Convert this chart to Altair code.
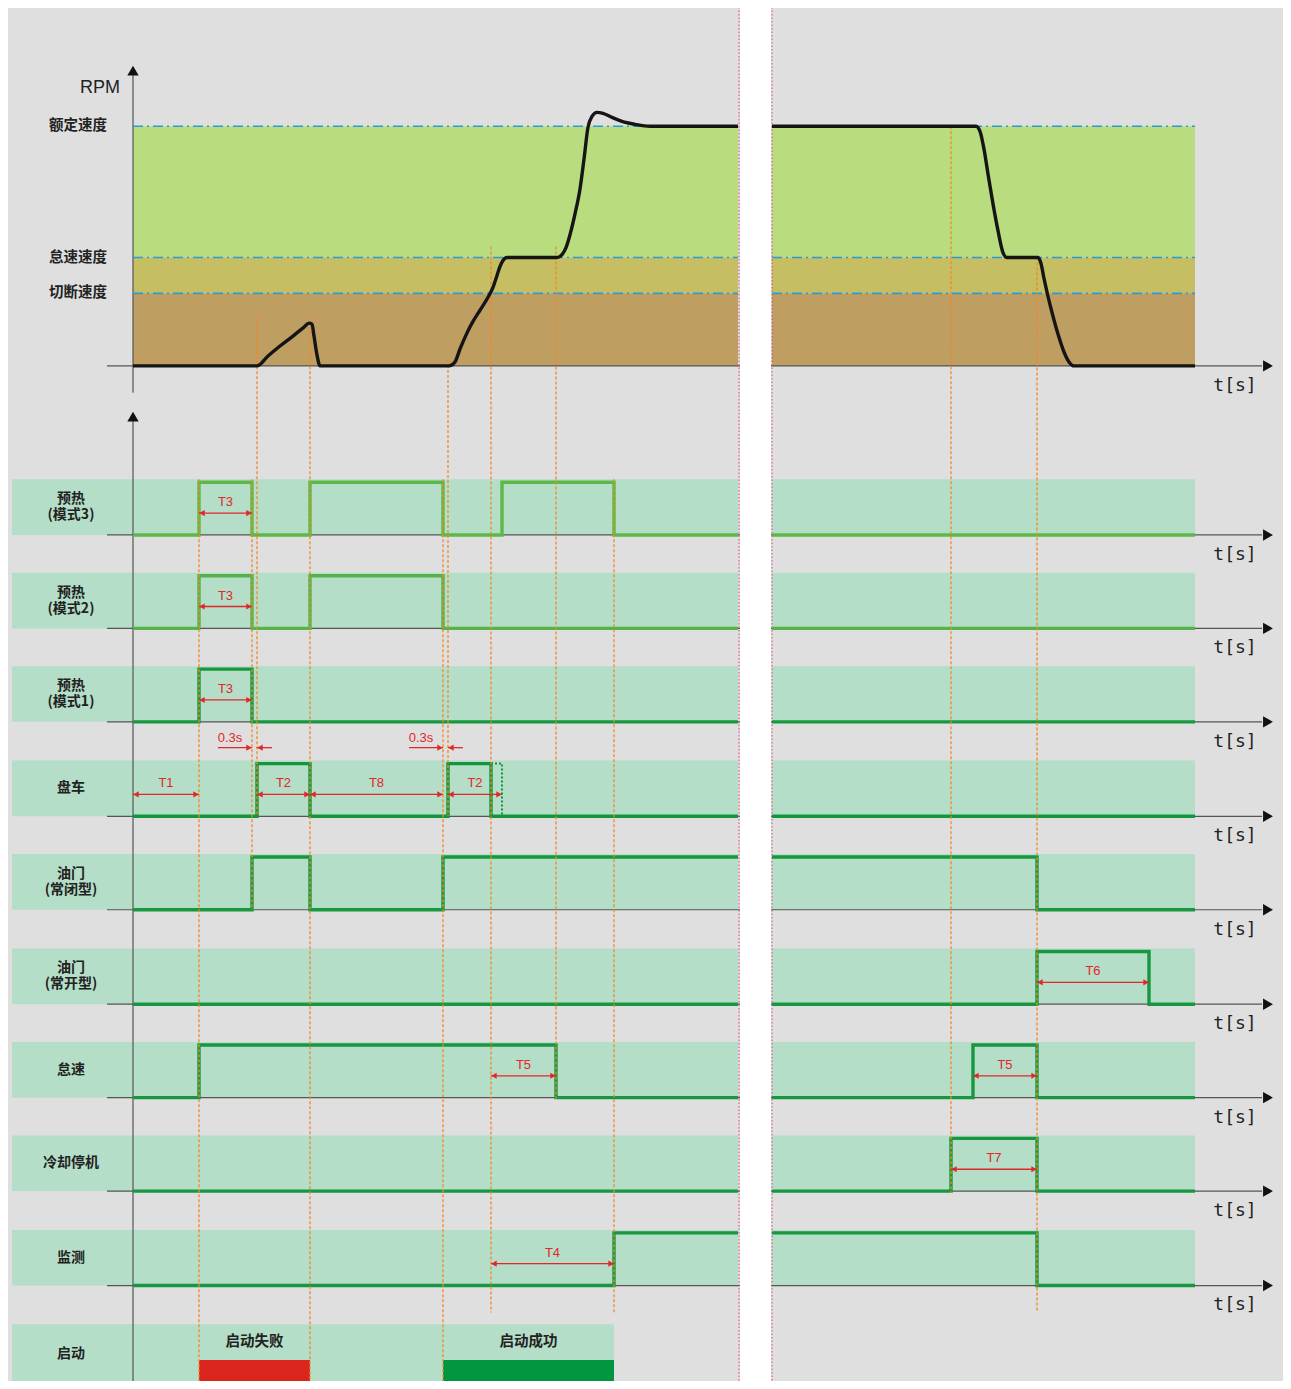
import altair as alt
import pandas as pd

# ---------------- values ----------------
# RPM panel: speed thresholds (vertical drawing units) and the time axis
speed_names = ["额定速度", "怠速速度", "切断速度"]
speed_levels = [127, 259, 295]
rpm_zero = 368

# RPM curve, left part (time, rpm-position) and right part
rpm_left_t = [133, 257, 268, 280, 293, 304, 309, 312, 314, 317, 320, 449, 455, 460, 466, 472, 480,
              488, 493, 497, 500, 503, 507, 557, 562, 566, 570, 575, 580, 584, 588, 592, 597, 603,
              612, 622, 635, 650, 738]
rpm_left_v = [368, 368, 358, 348, 338, 329, 325, 326, 338, 357, 368, 368, 364, 351, 337, 325, 312,
              299, 289, 277, 268, 262, 259, 259, 256, 249, 236, 215, 190, 160, 128, 117, 113, 114,
              118, 122, 125, 127, 127]
rpm_right_t = [772, 976, 980, 984, 988, 993, 998, 1003, 1007, 1038, 1041, 1044, 1048, 1053, 1058,
               1064, 1069, 1074, 1195]
rpm_right_v = [127, 127, 132, 150, 175, 205, 232, 254, 259, 259, 265, 280, 298, 318, 336, 354, 364,
               368, 368]

# Signal rows (each label: first line, optional second line)
row_label_1 = ["预热", "预热", "预热", "盘车", "油门", "油门", "怠速", "冷却停机", "监测"]
row_label_2 = ["(模式3)", "(模式2)", "(模式1)", "", "(常闭型)", "(常开型)", "", "", ""]
row_base = [538, 632, 726, 821, 915, 1010, 1104, 1198, 1293]
row_colors = ["#5db847", "#55b34a", "#18983e", "#12963c", "#17973f", "#17973f", "#17973f",
              "#17973f", "#17973f"]

sig_left_t = [
    [133, 199, 252, 310, 443, 502, 614, 738],
    [133, 199, 252, 310, 443, 738],
    [133, 199, 252, 738],
    [133, 257, 310, 448, 491, 738],
    [133, 252, 310, 443, 738],
    [133, 738],
    [133, 199, 556, 738],
    [133, 738],
    [133, 614, 738],
]
sig_left_v = [
    [0, 1, 0, 1, 0, 1, 0, 0],
    [0, 1, 0, 1, 0, 0],
    [0, 1, 0, 0],
    [0, 1, 0, 1, 0, 0],
    [0, 1, 0, 1, 1],
    [0, 0],
    [0, 1, 0, 0],
    [0, 0],
    [0, 1, 1],
]
sig_right_t = [
    [772, 1195],
    [772, 1195],
    [772, 1195],
    [772, 1195],
    [772, 1037, 1195],
    [772, 1037, 1149, 1195],
    [772, 973, 1037, 1195],
    [772, 951, 1037, 1195],
    [772, 1037, 1195],
]
sig_right_v = [
    [0, 0],
    [0, 0],
    [0, 0],
    [0, 0],
    [1, 0, 0],
    [0, 1, 0, 0],
    [0, 1, 0, 0],
    [0, 1, 0, 0],
    [1, 0, 0],
]

# dotted extension of 盘车 (T2 alternative end)
crank_ext_t = [491, 502, 502]
crank_ext_v = [1, 1, 0]

# Timing annotations: (row index, start, end, label)
ann_row = [0, 1, 2, 3, 3, 3, 3, 5, 6, 6, 7, 8]
ann_start = [199, 199, 199, 133, 257, 310, 448, 1037, 491, 973, 951, 491]
ann_end = [252, 252, 252, 199, 310, 443, 502, 1149, 556, 1037, 1037, 614]
ann_text = ["T3", "T3", "T3", "T1", "T2", "T8", "T2", "T6", "T5", "T5", "T7", "T4"]

# 0.3s delays
delay_edge = [252, 443]
delay_end = [257, 448]

# Vertical guide lines: time, top, bottom
guide_t = [199, 252, 257, 310, 443, 448, 491, 556, 614, 951, 1037]
guide_top = [482, 482, 318, 318, 482, 362, 248, 248, 482, 127, 259]
guide_bot = [1389, 915, 821, 1389, 1389, 821, 1320, 1105, 1320, 1200, 1320]

# start result bars
start_labels = ["启动失败", "启动成功"]
start_from = [199, 443]
start_to = [310, 614]
start_colors = ["#da251d", "#009640"]

# ---------------- layout ----------------
W, H = 1275, 1373
XS = alt.Scale(domain=[8, 1283], nice=False, zero=False)
YS = alt.Scale(domain=[8, 1389], nice=False, zero=False, reverse=True)
AMP = 53
BAND = 56
LEFT_END, RIGHT_START, RIGHT_END = 738, 772, 1195
AX_L, AX_R = 107, 1262

def X(f="x"):
    return alt.X(f + ":Q", scale=XS, axis=None)

def Y(f="y"):
    return alt.Y(f + ":Q", scale=YS, axis=None)

# ---- rects ----
rects = []
band_cols = ["#b8dc7e", "#c6be63", "#bf9e61"]
edges = [speed_levels[0], speed_levels[1], speed_levels[2], rpm_zero]
for i in range(3):
    for (a, b) in [(133, LEFT_END), (RIGHT_START, RIGHT_END)]:
        rects.append(dict(x=a, x2=b, y=edges[i], y2=edges[i + 1], c=band_cols[i]))
for base in row_base:
    for (a, b) in [(12, LEFT_END), (RIGHT_START, RIGHT_END)]:
        rects.append(dict(x=a, x2=b, y=base - BAND, y2=base, c="#b4dec7"))
rects.append(dict(x=12, x2=start_to[1], y=1332, y2=1389, c="#b4dec7"))
for a, b, c in zip(start_from, start_to, start_colors):
    rects.append(dict(x=a, x2=b, y=1368, y2=1389, c=c))
rect_df = pd.DataFrame(rects)
rect_layer = alt.Chart(rect_df).mark_rect().encode(
    x=X(), x2="x2", y=Y(), y2="y2", color=alt.Color("c:N", scale=None))

# ---- axis lines ----
hax_df = pd.DataFrame([dict(y=v, x=AX_L, x2=AX_R) for v in [rpm_zero] + row_base])
hax = alt.Chart(hax_df).mark_rule(color="#555555", strokeWidth=1.2).encode(x=X(), x2="x2", y=Y())
vax_df = pd.DataFrame([dict(x=133, y=75, y2=395), dict(x=133, y=420, y2=1389)])
vax = alt.Chart(vax_df).mark_rule(color="#555555", strokeWidth=1.2).encode(x=X(), y=Y(), y2="y2")

gap_df = pd.DataFrame([dict(x=740, x2=771, y=0, y2=1400)])
gap = alt.Chart(gap_df).mark_rect(color="white").encode(x=X(), x2="x2", y=Y(), y2="y2")
pink_df = pd.DataFrame([dict(x=739, y=0, y2=1400), dict(x=772, y=0, y2=1400)])
pink = alt.Chart(pink_df).mark_rule(color="#e0457b", strokeWidth=1, strokeDash=[1.5, 2]).encode(
    x=X(), y=Y(), y2="y2")

# ---- blue dash-dot speed lines ----
blue_df = pd.DataFrame([dict(x=a, x2=b, y=lv) for lv in speed_levels
                        for (a, b) in [(133, LEFT_END), (RIGHT_START, RIGHT_END)]])
blue = alt.Chart(blue_df).mark_rule(color="#2b9ad8", strokeWidth=1.6,
                                    strokeDash=[10, 4, 2, 4]).encode(x=X(), x2="x2", y=Y())

# ---- orange guides ----
guide_df = pd.DataFrame(dict(x=guide_t, y=guide_top, y2=guide_bot))
guides = alt.Chart(guide_df).mark_rule(color="#f0892a", strokeWidth=1.3, strokeDash=[3, 2]).encode(
    x=X(), y=Y(), y2="y2")

# ---- RPM curve ----
rpm_rows = []
for seg, (ts, vs) in enumerate([(rpm_left_t, rpm_left_v), (rpm_right_t, rpm_right_v)]):
    for k, (t, v) in enumerate(zip(ts, vs)):
        rpm_rows.append(dict(x=t, y=v, seg=seg, o=k))
rpm_layer = alt.Chart(pd.DataFrame(rpm_rows)).mark_line(
    color="#151515", strokeWidth=3.4, interpolate="monotone", strokeJoin="round").encode(
    x=X(), y=Y(), detail="seg:N", order="o:Q")

# ---- signals ----
sig_rows = []
for i in range(len(row_base)):
    for seg, (ts, vs) in enumerate([(sig_left_t[i], sig_left_v[i]), (sig_right_t[i], sig_right_v[i])]):
        for k, (t, v) in enumerate(zip(ts, vs)):
            sig_rows.append(dict(x=t, y=row_base[i] - v * AMP, s=f"{i}-{seg}", o=k, c=row_colors[i]))
sig_layer = alt.Chart(pd.DataFrame(sig_rows)).mark_line(
    strokeWidth=3.4, interpolate="step-after").encode(
    x=X(), y=Y(), detail="s:N", order="o:Q", color=alt.Color("c:N", scale=None))

ext_df = pd.DataFrame([dict(x=t, y=row_base[3] - v * AMP, o=k)
                       for k, (t, v) in enumerate(zip(crank_ext_t, crank_ext_v))])
ext_layer = alt.Chart(ext_df).mark_line(color="#12963c", strokeWidth=2, strokeDash=[2, 2]).encode(
    x=X(), y=Y(), order="o:Q")

# ---- red annotation arrows ----
arr_rows, head_l, head_r, red_txt = [], [], [], []
for r, a, b, t in zip(ann_row, ann_start, ann_end, ann_text):
    ya = row_base[r] - 22
    arr_rows.append(dict(x=a, x2=b, y=ya))
    head_l.append(dict(x=a, y=ya))
    head_r.append(dict(x=b, y=ya))
    red_txt.append(dict(x=(a + b) / 2, y=ya - 11, t=t))
for e, d in zip(delay_edge, delay_end):
    ya = row_base[2] + 26
    arr_rows.append(dict(x=e - 34, x2=e, y=ya))
    head_r.append(dict(x=e, y=ya))
    arr_rows.append(dict(x=d, x2=d + 15, y=ya))
    head_l.append(dict(x=d, y=ya))
    red_txt.append(dict(x=e - 22, y=ya - 10, t="0.3s"))
red = "#e3262a"
arr_layer = alt.Chart(pd.DataFrame(arr_rows)).mark_rule(color=red, strokeWidth=1.3).encode(
    x=X(), x2="x2", y=Y())
hl_layer = alt.Chart(pd.DataFrame(head_l)).mark_point(
    shape="triangle-left", filled=True, color=red, size=38, opacity=1, xOffset=3).encode(x=X(), y=Y())
hr_layer = alt.Chart(pd.DataFrame(head_r)).mark_point(
    shape="triangle-right", filled=True, color=red, size=38, opacity=1, xOffset=-3).encode(x=X(), y=Y())
red_txt_layer = alt.Chart(pd.DataFrame(red_txt)).mark_text(
    color=red, fontSize=13, font="Liberation Sans", baseline="middle").encode(
    x=X(), y=Y(), text="t:N")

# ---- axis arrowheads ----
ah_r = pd.DataFrame([dict(x=1268, y=v) for v in [rpm_zero] + row_base])
ah_r_layer = alt.Chart(ah_r).mark_point(shape="triangle-right", filled=True, color="#111111",
                                        size=130, opacity=1).encode(x=X(), y=Y())
ah_u = pd.DataFrame([dict(x=133, y=71), dict(x=133, y=419)])
ah_u_layer = alt.Chart(ah_u).mark_point(shape="triangle-up", filled=True, color="#111111",
                                        size=130, opacity=1).encode(x=X(), y=Y())

# ---- texts ----
lab_rows = []
for l1, l2, b in zip(row_label_1, row_label_2, row_base):
    mid = b - 28
    if l2:
        lab_rows.append(dict(x=71, y=mid - 8, t=l1))
        lab_rows.append(dict(x=71, y=mid + 8, t=l2))
    else:
        lab_rows.append(dict(x=71, y=mid, t=l1))
lab_rows.append(dict(x=71, y=1362, t="启动"))
lab_layer = alt.Chart(pd.DataFrame(lab_rows)).mark_text(
    fontSize=14, fontWeight="bold", color="#222222",
    font="Noto Sans CJK SC", baseline="middle").encode(x=X(), y=Y(), text="t:N")

spd_df = pd.DataFrame(dict(x=[107] * 3, y=speed_levels, t=speed_names))
spd_layer = alt.Chart(spd_df).mark_text(
    fontSize=14.5, fontWeight="bold", color="#222222", align="right", baseline="middle",
    font="Noto Sans CJK SC").encode(x=X(), y=Y(), text="t:N")

ts_df = pd.DataFrame([dict(x=1235, y=v + 20, t="t[s]") for v in [rpm_zero] + row_base])
ts_layer = alt.Chart(ts_df).mark_text(
    fontSize=18, color="#222222", font="DejaVu Sans Mono", baseline="middle").encode(
    x=X(), y=Y(), text="t:N")

rpm_txt = alt.Chart(pd.DataFrame([dict(x=100, y=88, t="RPM")])).mark_text(
    fontSize=18, color="#222222", font="Liberation Sans", baseline="middle").encode(
    x=X(), y=Y(), text="t:N")

st_df = pd.DataFrame(dict(x=[(a + b) / 2 for a, b in zip(start_from, start_to)],
                          y=[1350, 1350], t=start_labels))
st_layer = alt.Chart(st_df).mark_text(
    fontSize=14.5, fontWeight="bold", color="#222222", baseline="middle",
    font="Noto Sans CJK SC").encode(x=X(), y=Y(), text="t:N")

chart = alt.layer(
    rect_layer, hax, vax, gap, pink, blue, sig_layer, ext_layer, guides, rpm_layer,
    arr_layer, hl_layer, hr_layer, red_txt_layer, ah_r_layer, ah_u_layer,
    lab_layer, spd_layer, ts_layer, rpm_txt, st_layer,
).properties(width=W, height=H, padding=0, autosize="none", background="#dfdfdf").configure_view(
    strokeWidth=0)

chart.save("out.html", embed_options={"renderer": "svg", "actions": False})
